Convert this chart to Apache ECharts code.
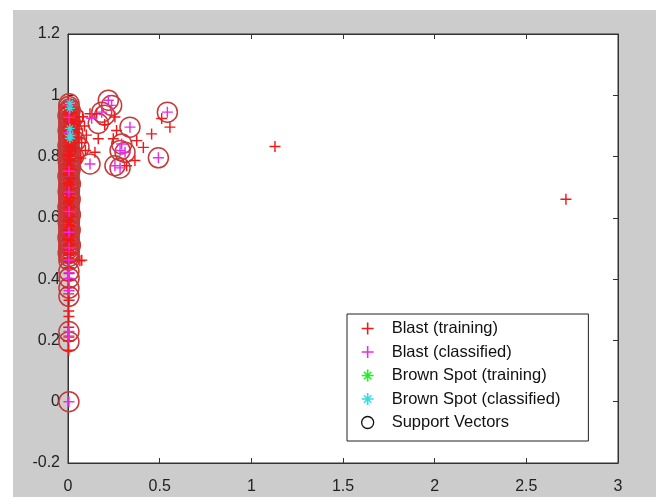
<!DOCTYPE html>
<html>
<head>
<meta charset="utf-8">
<script src="https://cdn.jsdelivr.net/npm/echarts@6/dist/echarts.min.js"></script>
<style>
  html, body { margin: 0; padding: 0; background: #ffffff; }
  #chart { width: 656px; height: 497px; }
</style>
</head>
<body>
<div id="chart"></div>
<script>
// tick values
var xTicks = [0, 0.5, 1, 1.5, 2, 2.5, 3];
var yTicks = [-0.2, 0, 0.2, 0.4, 0.6, 0.8, 1, 1.2];

// Blast (training) - red +
var blastTraining = [
    [0.004, 0.975], [0.008, 0.968], [0.002, 0.961], [0.010, 0.953], [0.005, 0.946],
    [0.003, 0.938], [0.009, 0.931], [0.006, 0.922], [0.002, 0.915], [0.011, 0.908],
    [0.004, 0.899], [0.007, 0.893], [0.003, 0.884], [0.010, 0.877], [0.005, 0.869],
    [0.002, 0.862], [0.008, 0.853], [0.004, 0.847], [0.009, 0.838], [0.003, 0.831],
    [0.006, 0.823], [0.002, 0.816], [0.010, 0.807], [0.005, 0.801], [0.003, 0.792],
    [0.008, 0.785], [0.004, 0.777], [0.007, 0.769], [0.002, 0.762], [0.009, 0.754],
    [0.005, 0.747], [0.003, 0.739], [0.010, 0.731], [0.006, 0.724], [0.002, 0.716],
    [0.008, 0.708], [0.004, 0.701], [0.009, 0.693], [0.003, 0.686], [0.006, 0.677],
    [0.002, 0.670], [0.010, 0.662], [0.005, 0.655], [0.003, 0.647], [0.008, 0.639],
    [0.004, 0.632], [0.007, 0.624], [0.002, 0.616], [0.009, 0.609], [0.005, 0.601],
    [0.003, 0.594], [0.006, 0.586], [0.004, 0.578], [0.008, 0.571], [0.003, 0.563],
    [0.005, 0.555], [0.004, 0.548], [0.006, 0.540], [0.002, 0.532], [0.009, 0.525],
    [0.005, 0.517], [0.003, 0.509], [0.007, 0.502], [0.004, 0.494], [0.006, 0.486],
    [0.003, 0.478], [0.005, 0.468], [0.004, 0.457],
    [0.014, 0.972], [0.000, 0.957], [0.016, 0.942], [0.001, 0.927], [0.013, 0.911],
    [0.000, 0.896], [0.015, 0.880], [0.001, 0.866], [0.014, 0.850], [0.000, 0.835],
    [0.016, 0.819], [0.001, 0.804], [0.013, 0.789], [0.000, 0.773], [0.015, 0.758],
    [0.001, 0.743], [0.014, 0.727], [0.000, 0.712], [0.016, 0.697], [0.001, 0.681],
    [0.013, 0.666], [0.000, 0.651], [0.015, 0.635], [0.001, 0.620], [0.014, 0.605],
    [0.000, 0.590], [0.016, 0.574], [0.001, 0.559], [0.013, 0.544], [0.000, 0.529],
    [0.015, 0.513], [0.001, 0.498], [0.014, 0.482], [0.000, 0.466],
    [0.004, 0.437], [0.006, 0.418], [0.003, 0.396], [0.005, 0.372], [0.004, 0.352],
    [0.006, 0.331], [0.004, 0.296], [0.005, 0.278], [0.004, 0.243], [0.005, 0.214],
    [0.003, 0.198], [0.004, 0.168],
    [0.030, 0.955], [0.045, 0.930], [0.060, 0.915], [0.035, 0.880], [0.055, 0.862],
    [0.075, 0.845], [0.040, 0.828], [0.090, 0.900], [0.095, 0.820], [0.070, 0.795],
    [0.100, 0.870], [0.025, 0.905], [0.050, 0.890], [0.080, 0.930], [0.020, 0.845],
    [0.065, 0.460], [0.075, 0.462],
    [0.120, 0.940], [0.156, 0.940], [0.165, 0.858], [0.147, 0.814], [0.247, 0.858],
    [0.256, 0.929], [0.265, 0.885], [0.320, 0.770], [0.365, 0.787], [0.375, 0.852],
    [0.411, 0.830], [0.456, 0.874], [0.511, 0.924], [0.556, 0.896], [0.200, 0.905],
    [1.129, 0.833], [2.716, 0.661]
];

// Blast (classified) - magenta +
var blastClassified = [
    [0.005, 0.968], [0.006, 0.928], [0.005, 0.878], [0.006, 0.752], [0.005, 0.684],
    [0.006, 0.621], [0.005, 0.553], [0.006, 0.502], [0.005, 0.462], [0.006, 0.421],
    [0.005, 0.402], [0.006, 0.362], [0.005, 0.229], [0.005, 0.210], [0.005, 0.000],
    [0.120, 0.776], [0.129, 0.925], [0.184, 0.945], [0.220, 0.984], [0.238, 0.967],
    [0.256, 0.770], [0.284, 0.763], [0.284, 0.820], [0.293, 0.841], [0.311, 0.814],
    [0.338, 0.896], [0.493, 0.796], [0.542, 0.945]
];

// Brown Spot (training) - green *
var brownTraining = [];

// Brown Spot (classified) - cyan *
var brownClassified = [
    [0.010, 0.974], [0.010, 0.957], [0.010, 0.892], [0.012, 0.869], [0.010, 0.859]
];

// Support Vectors - circles
var supportVectors = [
    [0.006, 0.972], [0.004, 0.963], [0.008, 0.955], [0.005, 0.947], [0.007, 0.939],
    [0.004, 0.930], [0.008, 0.921], [0.005, 0.914], [0.006, 0.905], [0.004, 0.897],
    [0.008, 0.889], [0.005, 0.880], [0.006, 0.872], [0.004, 0.864], [0.007, 0.856],
    [0.005, 0.847], [0.006, 0.839], [0.004, 0.831], [0.007, 0.822], [0.005, 0.815],
    [0.006, 0.806], [0.004, 0.798], [0.007, 0.789], [0.005, 0.781], [0.006, 0.773],
    [0.004, 0.765], [0.008, 0.756], [0.005, 0.748], [0.006, 0.740], [0.004, 0.731],
    [0.007, 0.723], [0.005, 0.715], [0.006, 0.707], [0.004, 0.698], [0.008, 0.690],
    [0.005, 0.682], [0.006, 0.673], [0.004, 0.665], [0.007, 0.657], [0.005, 0.649],
    [0.006, 0.640], [0.004, 0.632], [0.007, 0.624], [0.005, 0.616], [0.006, 0.607],
    [0.004, 0.599], [0.008, 0.591], [0.005, 0.583], [0.006, 0.574], [0.004, 0.566],
    [0.007, 0.558], [0.005, 0.549], [0.006, 0.541], [0.004, 0.533], [0.007, 0.525],
    [0.005, 0.516], [0.006, 0.508], [0.004, 0.500], [0.007, 0.491], [0.005, 0.483],
    [0.006, 0.474], [0.005, 0.462],
    [0.012, 0.951], [0.000, 0.934], [0.013, 0.910], [0.001, 0.885], [0.012, 0.860],
    [0.000, 0.836], [0.013, 0.811], [0.001, 0.786], [0.012, 0.760], [0.000, 0.736],
    [0.013, 0.711], [0.001, 0.686], [0.012, 0.661], [0.000, 0.636], [0.013, 0.611],
    [0.001, 0.586], [0.012, 0.561], [0.000, 0.536], [0.013, 0.511], [0.001, 0.486],
    [0.005, 0.426], [0.006, 0.404], [0.005, 0.371], [0.005, 0.344],
    [0.005, 0.229], [0.005, 0.196], [0.005, 0.000],
    [0.030, 0.930], [0.040, 0.850], [0.030, 0.800], [0.060, 0.830], [0.025, 0.880],
    [0.120, 0.776], [0.165, 0.908], [0.184, 0.945], [0.200, 0.935], [0.220, 0.984],
    [0.238, 0.967], [0.256, 0.770], [0.284, 0.763], [0.284, 0.820], [0.293, 0.841],
    [0.311, 0.814], [0.338, 0.896], [0.493, 0.796], [0.542, 0.945]
];

var plusPath = 'path://M0,4.35h10v1.3h-10z M4.35,0h1.3v10h-1.3z';
var starPath = 'path://M0,4.3h10v1.4h-10z M4.3,0h1.4v10h-1.4z M1.5,2.3L2.3,1.5L8.5,7.7L7.7,8.5z M7.7,1.5L8.5,2.3L2.3,8.5L1.5,7.7z';

var myChart = echarts.init(document.getElementById('chart'));

var axisText = { color: '#222', fontFamily: 'Liberation Sans', fontSize: 16 };

function boxAxis(extra) {
    return Object.assign({
        type: 'value',
        axisLine: { show: true, onZero: false, lineStyle: { color: '#333' } },
        axisTick: { show: true, inside: true, length: 5, lineStyle: { color: '#333' } },
        splitLine: { show: false }
    }, extra);
}

var option = {
    animation: false,
    backgroundColor: '#ffffff',
    graphic: [{
        type: 'rect',
        z: -10,
        silent: true,
        shape: { x: 13, y: 10, width: 643, height: 487 },
        style: { fill: '#cccccc' }
    }],
    grid: {
        left: 68, top: 34, width: 550, height: 429,
        show: true,
        backgroundColor: '#ffffff',
        borderColor: '#333',
        borderWidth: 1
    },
    xAxis: [
        boxAxis({ min: 0, max: 3, interval: 0.5, axisLabel: Object.assign({ margin: 16 }, axisText) }),
        boxAxis({ position: 'top', min: 0, max: 3, interval: 0.5, axisLabel: { show: false } })
    ],
    yAxis: [
        boxAxis({
            min: -0.2, max: 1.2, interval: 0.2,
            axisLabel: Object.assign({
                margin: 8,
                formatter: function (v) { return String(Math.round(v * 10) / 10); }
            }, axisText)
        }),
        boxAxis({ position: 'right', min: -0.2, max: 1.2, interval: 0.2, axisLabel: { show: false } })
    ],
    legend: {
        orient: 'vertical',
        left: 347,
        top: 314,
        padding: [6, 28, 10, 14],
        itemGap: 6.5,
        itemWidth: 38,
        itemHeight: 12,
        backgroundColor: '#ffffff',
        borderColor: '#222',
        borderWidth: 1,
        borderRadius: 0,
        textStyle: { color: '#111', fontFamily: 'Liberation Sans', fontSize: 16.5 },
        data: [
            { name: 'Blast (training)' },
            { name: 'Blast (classified)' },
            { name: 'Brown Spot (training)' },
            { name: 'Brown Spot (classified)' },
            { name: 'Support Vectors', icon: 'circle', itemStyle: { color: 'rgba(0,0,0,0)', borderColor: '#111', borderWidth: 1.3 } }
        ]
    },
    series: [
        {
            name: 'Support Vectors', type: 'scatter', data: supportVectors,
            symbol: 'circle', symbolSize: 20, z: 2,
            itemStyle: { color: 'rgba(0,0,0,0)', borderColor: '#c63a3a', borderWidth: 1.5, opacity: 1 }
        },
        {
            name: 'Blast (training)', type: 'scatter', data: blastTraining,
            symbol: plusPath, symbolSize: 11, z: 3,
            itemStyle: { color: '#f01818', opacity: 1 }
        },
        {
            name: 'Blast (classified)', type: 'scatter', data: blastClassified,
            symbol: plusPath, symbolSize: 11, z: 4,
            itemStyle: { color: '#e62ee6', opacity: 1 }
        },
        {
            name: 'Brown Spot (training)', type: 'scatter', data: brownTraining,
            symbol: starPath, symbolSize: 10, z: 4,
            itemStyle: { color: '#22ee22', opacity: 1 }
        },
        {
            name: 'Brown Spot (classified)', type: 'scatter', data: brownClassified,
            symbol: starPath, symbolSize: 10, z: 5,
            itemStyle: { color: '#33dddd', opacity: 1 }
        }
    ]
};

myChart.setOption(option);
</script>
</body>
</html>
